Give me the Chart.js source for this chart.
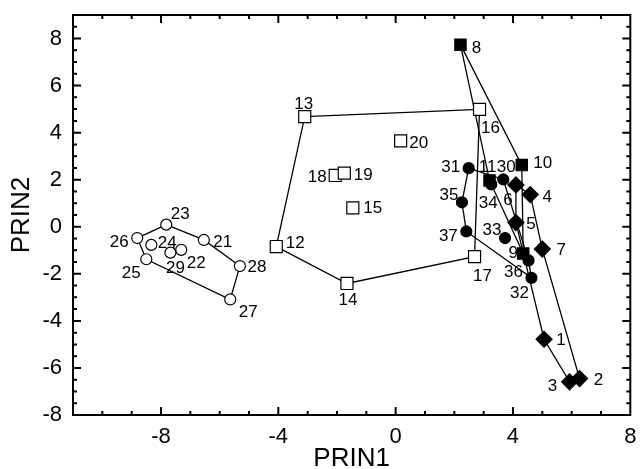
<!DOCTYPE html>
<html>
<head>
<meta charset="utf-8">
<script src="https://cdn.jsdelivr.net/npm/chart.js@4"></script>
<style>
  html,body{margin:0;padding:0;background:#fff;}
  canvas{display:block;}
</style>
</head>
<body>
<canvas id="chart" width="640" height="469"></canvas>
<script>
// point ids and PRIN1 / PRIN2 scores, one set per group
const openCircleIds = [21, 22, 23, 24, 25, 26, 27, 28, 29];
const openCircleX   = [-6.54, -7.31, -7.82, -8.33, -8.50, -8.81, -5.64, -5.31, -7.68];
const openCircleY   = [-0.56, -0.98, 0.09, -0.77, -1.38, -0.48, -3.09, -1.67, -1.10];

const openSquareIds = [12, 13, 14, 15, 16, 17, 18, 19, 20];
const openSquareX   = [-4.07, -3.10, -1.66, -1.46, 2.86, 2.69, -2.06, -1.75, 0.17];
const openSquareY   = [-0.84, 4.68, -2.41, 0.80, 4.99, -1.27, 2.18, 2.28, 3.65];

const filledSquareIds = [8, 9, 10, 11];
const filledSquareX   = [2.21, 4.35, 4.30, 3.20];
const filledSquareY   = [7.74, -1.14, 2.62, 1.97];

const diamondIds = [1, 2, 3, 4, 5, 6, 7];
const diamondX   = [5.06, 6.27, 5.93, 4.59, 4.10, 4.10, 5.00];
const diamondY   = [-4.78, -6.45, -6.59, 1.37, 0.18, 1.78, -0.95];

const filledCircleIds = [30, 31, 32, 33, 34, 35, 36, 37];
const filledCircleX   = [3.67, 2.49, 4.63, 3.73, 3.26, 2.26, 4.53, 2.41];
const filledCircleY   = [2.01, 2.49, -2.17, -0.48, 1.80, 1.04, -1.43, -0.20];

// convex hull outlines, as point ids in drawing order
const openCircleHull   = [23, 21, 28, 27, 25, 26];
const openSquareHull   = [13, 16, 17, 14, 12];
const filledSquareHull = [8, 10, 9, 11];
const diamondHull      = [6, 4, 7, 2, 3, 1, 5];
const filledCircleHull = [31, 30, 36, 32, 37, 35];

const xTicks = [-8, -4, 0, 4, 8];
const yTicks = [-8, -6, -4, -2, 0, 2, 4, 6, 8];

// where each number label sits relative to its marker (pixels)
const labelOffset = {
  1:[17,0], 2:[19,1], 3:[-17,3], 4:[17,2], 5:[15,1], 6:[-8,14], 7:[19,0],
  8:[16,3], 9:[-10,-1], 10:[21,-3], 11:[-2,-14], 12:[19,-4], 13:[-1,-13],
  14:[1,16], 15:[20,-1], 16:[11,18], 17:[8,19], 18:[-18,1], 19:[19,1],
  20:[18,1], 21:[19,1], 22:[15,12], 23:[14,-11], 24:[16,-3], 25:[-15,13],
  26:[-18,3], 27:[18,12], 28:[17,0], 29:[5,15], 30:[3,-13], 31:[-18,-2],
  32:[-12,14], 33:[-13,-9], 34:[-3,18], 35:[-13,-8], 36:[-15,11], 37:[-18,4]
};

const FONT = '"Liberation Sans", Arial, Helvetica, sans-serif';

function pts(ids, xs, ys){
  return ids.map((id, i) => ({x: xs[i], y: ys[i], id: id}));
}
const groups = [
  pts(openCircleIds, openCircleX, openCircleY),
  pts(openSquareIds, openSquareX, openSquareY),
  pts(filledSquareIds, filledSquareX, filledSquareY),
  pts(diamondIds, diamondX, diamondY),
  pts(filledCircleIds, filledCircleX, filledCircleY)
];
const byId = {};
groups.forEach(g => g.forEach(p => byId[p.id] = p));

function hull(ids){
  const out = ids.map(id => ({x: byId[id].x, y: byId[id].y}));
  out.push(out[0]);
  return out;
}

function markers(data, style, fill, r){
  return {type:'scatter', data: data, pointStyle: style, pointRadius: r, pointHoverRadius: r,
    backgroundColor: fill, borderColor:'#000', pointBorderWidth: 1.2, order: 0};
}
function outline(ids){
  return {type:'line', data: hull(ids), showLine:true, fill:false, borderColor:'#000',
    borderWidth: 1.3, pointRadius: 0, tension: 0, order: 1};
}

// frame with inward major/minor ticks on all four sides
const framePlugin = {
  id:'frame',
  afterDraw(chart){
    const {ctx, chartArea:a, scales:{x, y}} = chart;
    ctx.save();
    ctx.strokeStyle = '#000';
    ctx.lineWidth = 2;
    ctx.strokeRect(a.left, a.top, a.right - a.left, a.bottom - a.top);
    ctx.beginPath();
    for(let v = -10; v <= 7; v++){
      const px = x.getPixelForValue(v);
      const len = (v % 4 === 0) ? 8 : 4;
      ctx.moveTo(px, a.bottom); ctx.lineTo(px, a.bottom - len);
      ctx.moveTo(px, a.top); ctx.lineTo(px, a.top + len);
    }
    for(let v = -7.5; v <= 8.5; v += 0.5){
      const py = y.getPixelForValue(v);
      const len = (v % 2 === 0) ? 8 : 4;
      ctx.moveTo(a.left, py); ctx.lineTo(a.left + len, py);
      ctx.moveTo(a.right, py); ctx.lineTo(a.right - len, py);
    }
    ctx.stroke();
    ctx.restore();
  }
};

// number labels next to each marker
const labelPlugin = {
  id:'pointLabels',
  afterDatasetsDraw(chart){
    const {ctx, scales:{x, y}} = chart;
    ctx.save();
    ctx.font = '17px ' + FONT;
    ctx.fillStyle = '#000';
    ctx.textAlign = 'center';
    ctx.textBaseline = 'middle';
    groups.forEach(g => g.forEach(p => {
      const o = labelOffset[p.id] || [14, 0];
      ctx.fillText(String(p.id), x.getPixelForValue(p.x) + o[0], y.getPixelForValue(p.y) + o[1] + 1);
    }));
    ctx.restore();
  }
};

new Chart(document.getElementById('chart'), {
  data:{
    datasets:[
      markers(groups[0], 'circle', '#fff', 5.5),
      markers(groups[1], 'rect', '#fff', 8.5),
      markers(groups[2], 'rect', '#000', 8),
      markers(groups[3], 'rectRot', '#000', 8),
      markers(groups[4], 'circle', '#000', 5.5),
      outline(openCircleHull),
      outline(openSquareHull),
      outline(filledSquareHull),
      outline(diamondHull),
      outline(filledCircleHull)
    ]
  },
  options:{
    responsive:false,
    animation:false,
    events:[],
    layout:{padding:{top:15, right:5, left:0, bottom:0}},
    plugins:{legend:{display:false}, tooltip:{enabled:false}},
    scales:{
      x:{
        type:'linear', min:-11, max:8,
        grid:{display:false, drawTicks:false},
        border:{display:false},
        afterBuildTicks(s){ s.ticks = xTicks.map(v => ({value:v})); },
        afterFit(s){ s.height = 54; s.paddingLeft = 0; s.paddingRight = 0; },
        ticks:{font:{family:FONT, size:22}, color:'#000', padding:9, maxRotation:0,
          callback:v => String(v)},
        title:{display:true, text:'PRIN1', color:'#000', font:{family:FONT, size:26, lineHeight:1},
          padding:{top:0, bottom:-3}}
      },
      y:{
        type:'linear', min:-8, max:9,
        grid:{display:false, drawTicks:false},
        border:{display:false},
        afterBuildTicks(s){ s.ticks = yTicks.map(v => ({value:v})); },
        afterFit(s){ s.width = 73; s.paddingTop = 0; s.paddingBottom = 0; },
        ticks:{font:{family:FONT, size:22}, color:'#000', padding:11,
          callback:v => String(v)},
        title:{display:true, text:'PRIN2', color:'#000', font:{family:FONT, size:26, lineHeight:1},
          padding:{top:9, bottom:0}}
      }
    }
  },
  plugins:[framePlugin, labelPlugin]
});
</script>
</body>
</html>
